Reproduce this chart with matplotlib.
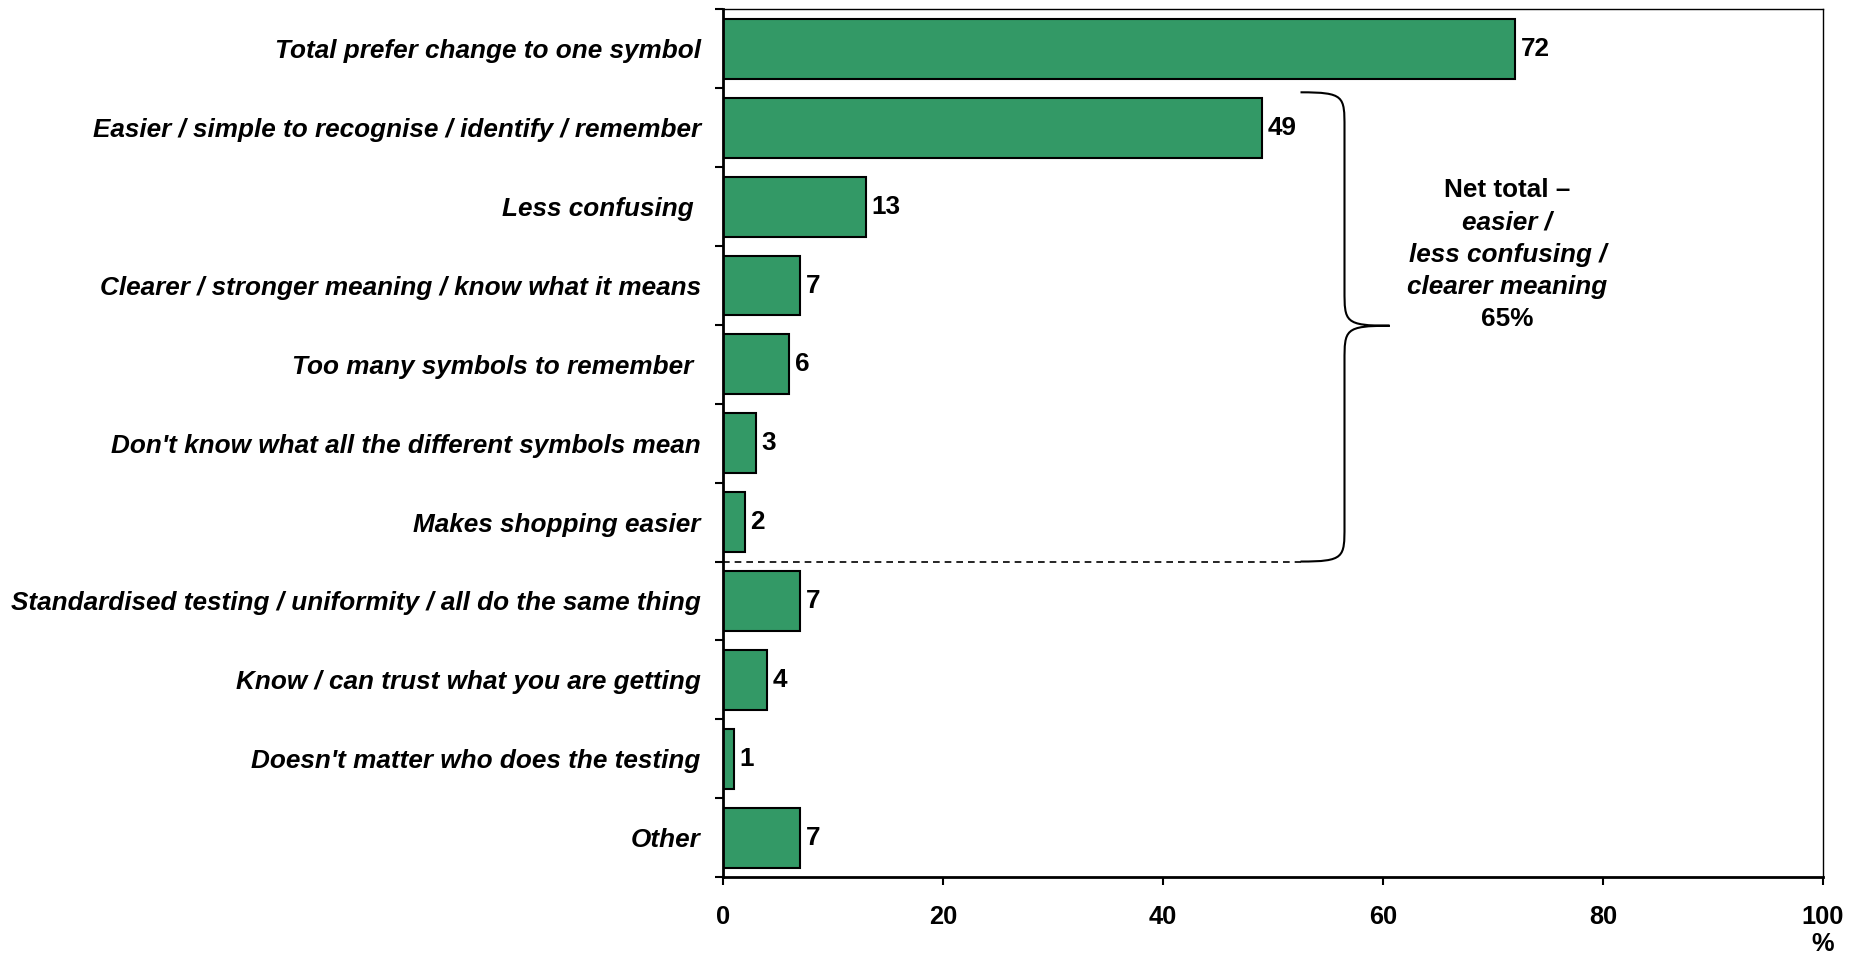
import matplotlib
matplotlib.use("Agg")
import matplotlib.pyplot as plt
from matplotlib.path import Path
from matplotlib.patches import PathPatch

categories = [
    "Total prefer change to one symbol",
    "Easier / simple to recognise / identify / remember",
    "Less confusing ",
    "Clearer / stronger meaning / know what it means",
    "Too many symbols to remember ",
    "Don't know what all the different symbols mean",
    "Makes shopping easier",
    "Standardised testing / uniformity / all do the same thing",
    "Know / can trust what you are getting",
    "Doesn't matter who does the testing",
    "Other",
]
values = [72, 49, 13, 7, 6, 3, 2, 7, 4, 1, 7]
xticks = [0, 20, 40, 60, 80, 100]
net_lines = ["Net total \u2013", "easier /", "less confusing /", "clearer meaning", "65%"]
net_styles = ["normal", "italic", "italic", "italic", "normal"]

plt.rcParams['font.family'] = ['Liberation Sans', 'DejaVu Sans']
FS = 18.8

fig = plt.figure(figsize=(18.61, 9.57), dpi=100)
ax = fig.add_axes([723/1861, 1-877/957, (1823-723)/1861, (877-9.5)/957])

ypos = list(range(len(categories)))
ax.barh(ypos, values, height=0.76, color="#339966", edgecolor="black", linewidth=1.5)
for y, v in zip(ypos, values):
    ax.text(v + 0.5, y, str(v), va="center", ha="left", fontsize=FS, fontweight="bold")

ax.set_xlim(0, 100)
ax.set_ylim(len(categories) - 0.5, -0.5)
ax.set_yticks(ypos)
ax.set_yticklabels(categories, fontsize=FS, fontweight="bold", fontstyle="italic")
ax.tick_params(axis="y", which="major", length=0, pad=16)
ax.set_yticks([i - 0.5 for i in range(len(categories) + 1)], minor=True)
ax.tick_params(axis="y", which="minor", length=6, width=1.5, direction="out")
ax.set_xticks(xticks)
ax.set_xticklabels([str(t) for t in xticks], fontsize=18.3, fontweight="bold")
ax.tick_params(axis="x", length=6, width=1.5, direction="out", pad=14)

for s in ["left", "bottom"]:
    ax.spines[s].set_linewidth(2)
for s in ["top", "right"]:
    ax.spines[s].set_linewidth(1)

ax.text(1.0, -0.077, "%", transform=ax.transAxes, ha="center", va="center", fontsize=18.3, fontweight="bold")

# dashed separator line
ax.plot([0, 52.5], [6.5, 6.5], color="black", linestyle=(0, (4, 3)), linewidth=1.2, clip_on=False)

# brace
x0, xv, xt = 52.5, 56.5, 60.6
ytop, ytip, ybot = 0.55, 3.51, 6.5
r = 0.45
verts = [
    (x0, ytop),
    (xv, ytop), (xv, ytop + 0.05), (xv, ytop + r),
    (xv, ytip - r),
    (xv, ytip - 0.05), (xv, ytip), (xt, ytip),
    (xv, ytip), (xv, ytip + 0.05), (xv, ytip + r),
    (xv, ybot - r),
    (xv, ybot - 0.05), (xv, ybot), (x0, ybot),
]
codes = [Path.MOVETO,
         Path.CURVE4, Path.CURVE4, Path.CURVE4,
         Path.LINETO,
         Path.CURVE4, Path.CURVE4, Path.CURVE4,
         Path.CURVE4, Path.CURVE4, Path.CURVE4,
         Path.LINETO,
         Path.CURVE4, Path.CURVE4, Path.CURVE4]
ax.add_patch(PathPatch(Path(verts, codes), fill=False, edgecolor="black", linewidth=1.5, clip_on=False))

for i, (line, st) in enumerate(zip(net_lines, net_styles)):
    ax.text(71.3, 1.79 + i * 0.41, line, ha="center", va="center", fontsize=FS,
            fontweight="bold", fontstyle=st)

fig.savefig("out.png", dpi=100)
